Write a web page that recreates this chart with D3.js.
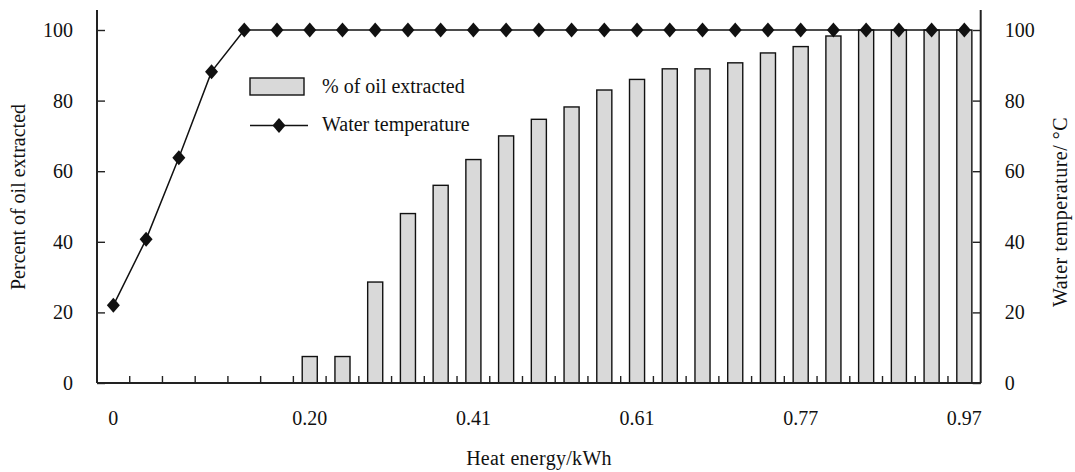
<!DOCTYPE html>
<html>
<head>
<meta charset="utf-8">
<script src="https://cdn.jsdelivr.net/npm/d3@7"></script>
<style>
  body { margin: 0; background: #fff; }
  text { font-family: "Liberation Serif", "Times New Roman", serif; fill: #111; }
</style>
</head>
<body>
<div id="chart"></div>
<script>
// x categories: 27 heating steps, only some are labelled
const steps = d3.range(27)
const labelSteps = [0, 6, 11, 16, 21, 26]
const labelTexts = ['0', '0.20', '0.41', '0.61', '0.77', '0.97']

// % of oil extracted (bars), null = no bar
const oilExtracted = [null, null, null, null, null, null, 7.5, 7.5, 28.6, 48, 56, 63.3, 70, 74.7,
    78.2, 83, 86, 89, 89, 90.7, 93.5, 95.3, 98.3, 100, 100, 100, 100]

// water temperature (line with diamonds)
const waterTemp = [22, 40.7, 63.8, 88.2, 100, 100, 100, 100, 100, 100, 100, 100, 100, 100,
    100, 100, 100, 100, 100, 100, 100, 100, 100, 100, 100, 100, 100]

const yTicks = [0, 20, 40, 60, 80, 100]

const W = 1075, H = 472
const plotLeft = 97, plotRight = 980.7, plotTop = 30, plotBottom = 383, axisTop = 10
const fontSize = '20px'

const svg = d3.select('#chart').append('svg')
    .attr('width', W)
    .attr('height', H)

const x = d3.scaleBand()
    .domain(steps)
    .range([plotLeft, plotRight])
    .padding(0)

const yLeft = d3.scaleLinear().domain([0, 100]).range([plotBottom, plotTop])
const yRight = d3.scaleLinear().domain([0, 100]).range([plotBottom, plotTop])

const barW = x.bandwidth() * 0.46
const cx = (i) => x(i) + x.bandwidth() / 2

// bars
svg.append('g').selectAll('rect')
    .data(steps.filter(i => oilExtracted[i] !== null))
    .enter().append('rect')
    .attr('x', i => cx(i) - barW / 2)
    .attr('y', i => yLeft(oilExtracted[i]))
    .attr('width', barW)
    .attr('height', i => yLeft(0) - yLeft(oilExtracted[i]))
    .attr('fill', '#d9d9d9')
    .attr('stroke', '#111')
    .attr('stroke-width', 1.4)

// axes
const leftAxis = svg.append('g')
    .attr('transform', `translate(${plotLeft},0)`)
    .call(d3.axisLeft(yLeft).tickValues(yTicks).tickSizeInner(-8).tickSizeOuter(0).tickPadding(24))
const rightAxis = svg.append('g')
    .attr('transform', `translate(${plotRight},0)`)
    .call(d3.axisRight(yRight).tickValues(yTicks).tickSizeInner(-8).tickSizeOuter(0).tickPadding(24))

;[leftAxis, rightAxis].forEach(g => {
    g.select('.domain').remove()
    g.selectAll('.tick line').attr('stroke', '#222').attr('stroke-width', 1.4)
    g.selectAll('.tick text').style('font-size', fontSize).attr('fill', '#111')
    g.append('line')
        .attr('y1', plotBottom).attr('y2', axisTop)
        .attr('stroke', '#222').attr('stroke-width', 2)
})

// x axis line and inner ticks at category boundaries
svg.append('line')
    .attr('x1', plotLeft).attr('x2', plotRight)
    .attr('y1', plotBottom).attr('y2', plotBottom)
    .attr('stroke', '#222').attr('stroke-width', 2)

svg.append('g').selectAll('line')
    .data(steps.slice(1))
    .enter().append('line')
    .attr('x1', i => x(i)).attr('x2', i => x(i))
    .attr('y1', plotBottom).attr('y2', plotBottom - 7)
    .attr('stroke', '#222').attr('stroke-width', 1.4)

svg.append('g').selectAll('text')
    .data(labelSteps)
    .enter().append('text')
    .attr('x', i => cx(i))
    .attr('y', 425)
    .attr('text-anchor', 'middle')
    .style('font-size', fontSize)
    .text((d, k) => labelTexts[k])

// temperature line
const diamond = 'M0,-7.5L6.5,0L0,7.5L-6.5,0Z'

svg.append('path')
    .datum(steps)
    .attr('fill', 'none')
    .attr('stroke', '#111')
    .attr('stroke-width', 1.5)
    .attr('d', d3.line().x(i => cx(i)).y(i => yRight(waterTemp[i])))

svg.append('g').selectAll('path')
    .data(steps)
    .enter().append('path')
    .attr('transform', i => `translate(${cx(i)},${yRight(waterTemp[i])})`)
    .attr('d', diamond)
    .attr('fill', '#111')

// axis titles
svg.append('text')
    .attr('transform', 'translate(25,197) rotate(-90)')
    .attr('text-anchor', 'middle')
    .style('font-size', fontSize)
    .text('Percent of oil extracted')

svg.append('text')
    .attr('transform', 'translate(1067,212) rotate(-90)')
    .attr('text-anchor', 'middle')
    .style('font-size', fontSize)
    .style('letter-spacing', '0.5px')
    .text('Water temperature/ \u00b0C')

svg.append('text')
    .attr('x', 539)
    .attr('y', 465)
    .attr('text-anchor', 'middle')
    .style('font-size', fontSize)
    .style('letter-spacing', '0.3px')
    .text('Heat energy/kWh')

// legend
const legend = svg.append('g')
legend.append('rect')
    .attr('x', 250).attr('y', 78)
    .attr('width', 54).attr('height', 17)
    .attr('fill', '#d9d9d9').attr('stroke', '#111').attr('stroke-width', 1.4)
legend.append('text')
    .attr('x', 322).attr('y', 93)
    .style('font-size', fontSize)
    .text('% of oil extracted')
legend.append('line')
    .attr('x1', 250).attr('x2', 308)
    .attr('y1', 125.5).attr('y2', 125.5)
    .attr('stroke', '#111').attr('stroke-width', 1.5)
legend.append('path')
    .attr('transform', 'translate(279,125.5)')
    .attr('d', diamond)
    .attr('fill', '#111')
legend.append('text')
    .attr('x', 322).attr('y', 131)
    .style('font-size', fontSize)
    .text('Water temperature')
</script>
</body>
</html>
